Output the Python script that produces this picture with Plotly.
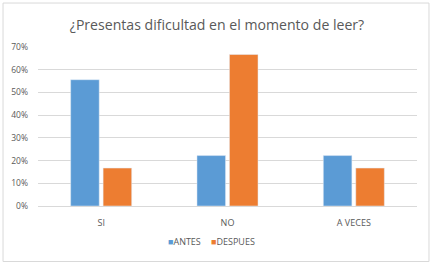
import plotly.graph_objects as go

categories = ["SI", "NO", "A VECES"]
antes = [0.556, 0.222, 0.222]
despues = [0.167, 0.667, 0.167]
series_names = ["ANTES", "DESPUES"]
series_colors = ["#5B9BD5", "#ED7D31"]
title_text = "¿Presentas dificultad en el momento de leer?"

W, H = 434, 265
L, R, T, B = 37.5, 17, 47.3, 59.3
ph = H - T - B
pw = W - L - R

def px_x(p):
    return (p - L) / pw

def px_y(p):
    return (H - B - p) / ph

fig = go.Figure()
fig.add_trace(go.Bar(x=categories, y=antes, name=series_names[0], marker_color=series_colors[0]))
fig.add_trace(go.Bar(x=categories, y=despues, name=series_names[1], marker_color=series_colors[1]))

fig.update_layout(
    width=W, height=H,
    margin=dict(l=L, r=R, t=T, b=B, pad=0),
    paper_bgcolor="white", plot_bgcolor="white",
    barmode="group", bargap=0.486, bargroupgap=0.12,
    font=dict(family="Open Sans", color="#595959", size=9),
    title=dict(text=title_text, x=0.5, xanchor="center", y=1 - 25 / H, yanchor="middle",
               font=dict(family="Open Sans", size=14.1, color="#595959")),
    showlegend=False,
)
fig.update_yaxes(range=[0, 0.7], dtick=0.1, tickformat=".0%", gridcolor="#D9D9D9",
                 gridwidth=1, zeroline=False, showline=False, ticks="",
                 ticklabelstandoff=9,
                 tickfont=dict(size=8.5, color="#595959"), fixedrange=True)
fig.update_xaxes(showline=True, linecolor="#D9D9D9", linewidth=1, ticks="",
                 ticklabelstandoff=8,
                 tickfont=dict(size=9, color="#595959"), fixedrange=True)

legend_anchor = [("right", 203), ("left", 209)]
for (anchor, xp), n, c in zip(legend_anchor, series_names, series_colors):
    fig.add_annotation(xref="paper", yref="paper", x=px_x(xp), y=px_y(241),
                       xanchor=anchor, yanchor="middle", showarrow=False,
                       text=f"<span style='color:{c}'>■</span>{n}",
                       font=dict(size=9, color="#595959", family="Open Sans"))

fig.add_shape(type="rect", xref="paper", yref="paper",
              x0=px_x(2.5), x1=px_x(429), y0=px_y(261), y1=px_y(3.5),
              line=dict(color="#D9D9D9", width=1), fillcolor="rgba(0,0,0,0)", layer="below")

fig.write_html("out.html")
